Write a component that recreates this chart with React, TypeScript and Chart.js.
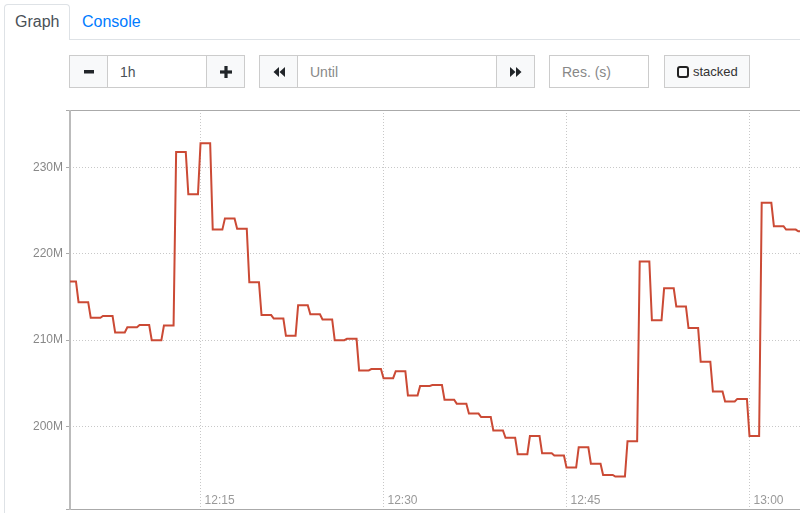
import React, { useEffect, useRef } from "react";
import { Chart, registerables } from "chart.js";

Chart.register(...registerables);

// One value per minute (in millions), starting at 12:04
const stepValues: number[] = [
  216.8, 214.4, 212.6, 212.8, 210.9, 211.5, 211.75, 210.0, 211.7, 231.8,
  226.9, 232.8, 222.8, 224.1, 222.9, 216.7, 212.9, 212.5, 210.5, 214.05,
  213.0, 212.4, 210.0, 210.15, 206.5, 206.65, 205.6, 206.4, 203.6, 204.7,
  204.8, 203.1, 202.65, 201.5, 201.1, 199.55, 198.7, 196.8, 198.9, 196.9,
  196.65, 195.25, 197.6, 195.7, 194.4, 194.2, 198.3, 219.1, 212.3, 216.0,
  213.9, 211.4, 207.5, 204.05, 202.9, 203.2, 198.9, 225.9, 223.2, 222.8,
  222.6,
];
const START_MIN = 4; // minutes after 12:00 of first value
const HOLD = 0.79; // fraction of the minute a value is held flat

const yTickValues: number[] = [200, 210, 220, 230];
const xTickValues: number[] = [15, 30, 45, 60];
const xTickLabels: string[] = ["12:15", "12:30", "12:45", "13:00"];

const X_MIN = 4.3;
const X_MAX = 64.14;
const Y_MIN = 190.45;
const Y_MAX = 236.65;

const LINE_COLOR = "#cb4a35";
const FONT = "'Liberation Sans', Arial, sans-serif";

function MinusIcon() {
  return (
    <svg width="10" height="4" viewBox="0 0 10 4" style={{ display: "block" }}>
      <rect x="0" y="0" width="10" height="3.5" fill="#212529" />
    </svg>
  );
}
function PlusIcon() {
  return (
    <svg width="12" height="12" viewBox="0 0 12 12" style={{ display: "block" }}>
      <rect x="0" y="4.4" width="12" height="3.2" fill="#212529" />
      <rect x="4.4" y="0" width="3.2" height="12" fill="#212529" />
    </svg>
  );
}
function BackIcon() {
  return (
    <svg width="12" height="10" viewBox="0 0 12 10" style={{ display: "block" }}>
      <path d="M6 0 L0.5 5 L6 10 Z M12 0 L6.5 5 L12 10 Z" fill="#212529" />
    </svg>
  );
}
function FwdIcon() {
  return (
    <svg width="12" height="10" viewBox="0 0 12 10" style={{ display: "block" }}>
      <path d="M0 0 L5.5 5 L0 10 Z M6 0 L11.5 5 L6 10 Z" fill="#212529" />
    </svg>
  );
}

const box = (left: number, width: number, bg: string): React.CSSProperties => ({
  position: "absolute",
  left,
  top: 55,
  width,
  height: 33,
  boxSizing: "border-box",
  border: "1px solid #ccc",
  background: bg,
  display: "flex",
  alignItems: "center",
  fontSize: 14,
});

export default function App() {
  const ref = useRef<HTMLCanvasElement>(null);

  useEffect(() => {
    const pts: { x: number; y: number }[] = [];
    stepValues.forEach((v, k) => {
      pts.push({ x: START_MIN + k, y: v });
      pts.push({ x: START_MIN + k + HOLD, y: v });
    });

    const framePlugin = {
      id: "frame",
      beforeDatasetsDraw(chart: any) {
        const { ctx, chartArea: a } = chart;
        ctx.save();
        ctx.strokeStyle = "#aaa";
        ctx.lineWidth = 1;
        ctx.beginPath();
        ctx.moveTo(a.left - 4, a.top + 0.5);
        ctx.lineTo(a.right, a.top + 0.5);
        ctx.moveTo(a.left - 4, a.bottom + 0.5);
        ctx.lineTo(a.right, a.bottom + 0.5);
        ctx.stroke();
        ctx.strokeStyle = "#bbb";
        ctx.lineWidth = 2;
        ctx.beginPath();
        ctx.moveTo(a.left, a.top);
        ctx.lineTo(a.left, a.bottom + 1);
        ctx.stroke();
        ctx.restore();
      },
      afterDraw(chart: any) {
        const { ctx, chartArea: a, scales } = chart;
        ctx.save();
        ctx.font = `12px ${FONT}`;
        ctx.fillStyle = "#999";
        ctx.textAlign = "left";
        ctx.textBaseline = "alphabetic";
        xTickValues.forEach((v, i) => {
          const px = scales.x.getPixelForValue(v);
          ctx.fillText(xTickLabels[i], px + 4, a.bottom - 5);
        });
        ctx.restore();
      },
    };

    const chart = new Chart(ref.current as HTMLCanvasElement, {
      type: "line",
      data: {
        datasets: [
          {
            data: pts,
            borderColor: LINE_COLOR,
            borderWidth: 2,
            pointRadius: 0,
            tension: 0,
            fill: false,
          },
        ],
      },
      options: {
        animation: false,
        responsive: false,
        maintainAspectRatio: false,
        events: [],
        layout: { padding: { top: 10, left: 0, right: 0, bottom: 0 } },
        plugins: {
          legend: { display: false },
          tooltip: { enabled: false },
        },
        scales: {
          x: {
            type: "linear",
            min: X_MIN,
            max: X_MAX,
            afterBuildTicks: (s: any) => {
              s.ticks = xTickValues.map((v) => ({ value: v }));
            },
            afterFit: (s: any) => {
              s.height = 4;
            },
            ticks: { display: false },
            grid: { color: "#c8c8c8", lineWidth: 1, drawTicks: false },
            border: { display: false, dash: [1, 2] },
          },
          y: {
            type: "linear",
            min: Y_MIN,
            max: Y_MAX,
            afterBuildTicks: (s: any) => {
              s.ticks = yTickValues.map((v) => ({ value: v }));
            },
            afterFit: (s: any) => {
              s.width = 70;
              s.paddingTop = 0;
              s.paddingBottom = 0;
            },
            ticks: {
              color: "#888",
              font: { family: FONT, size: 12 },
              padding: 3,
              callback: (v: any) => `${v}M`,
            },
            grid: {
              color: "#c8c8c8",
              lineWidth: 1,
              drawTicks: true,
              tickLength: 4,
              tickColor: "#aaa",
              tickWidth: 1,
            },
            border: { display: false, dash: [1, 2] },
          },
        },
      },
      plugins: [framePlugin],
    } as any);
    return () => chart.destroy();
  }, []);

  return (
    <div
      style={{
        position: "absolute",
        left: 0,
        top: 0,
        width: 800,
        height: 513,
        overflow: "hidden",
        background: "#fff",
        fontFamily: FONT,
        color: "#495057",
      }}
    >
      {/* tabs */}
      <div
        style={{
          position: "absolute",
          left: 4,
          top: 4,
          width: 66,
          height: 36,
          boxSizing: "border-box",
          border: "1px solid #dee2e6",
          borderBottom: "none",
          borderRadius: "4px 4px 0 0",
          background: "#fff",
          fontSize: 16,
          lineHeight: "33px",
          paddingLeft: 10,
          color: "#495057",
        }}
      >
        Graph
      </div>
      <div
        style={{
          position: "absolute",
          left: 82,
          top: 5,
          height: 33,
          fontSize: 16,
          lineHeight: "33px",
          color: "#007bff",
        }}
      >
        Console
      </div>
      <div style={{ position: "absolute", left: 70, top: 39, width: 730, height: 1, background: "#dee2e6" }} />
      <div style={{ position: "absolute", left: 4, top: 39, width: 1, height: 474, background: "#dee2e6" }} />

      {/* controls */}
      <div style={{ ...box(69, 39, "#f8f9fa"), justifyContent: "center" }}>
        <MinusIcon />
      </div>
      <div style={{ ...box(107, 100, "#fff"), paddingLeft: 12, color: "#495057" }}>1h</div>
      <div style={{ ...box(206, 39, "#f8f9fa"), justifyContent: "center" }}>
        <PlusIcon />
      </div>

      <div style={{ ...box(259, 39, "#f8f9fa"), justifyContent: "center" }}>
        <BackIcon />
      </div>
      <div style={{ ...box(297, 200, "#fff"), paddingLeft: 12, color: "#888" }}>Until</div>
      <div style={{ ...box(496, 39, "#f8f9fa"), justifyContent: "center" }}>
        <FwdIcon />
      </div>

      <div style={{ ...box(549, 100, "#fff"), paddingLeft: 12, color: "#888" }}>Res. (s)</div>

      <div style={{ ...box(664, 86, "#f8f9fa"), paddingLeft: 12, fontSize: 13, color: "#333" }}>
        <span
          style={{
            display: "inline-block",
            flex: "0 0 auto",
            width: 12,
            height: 12,
            boxSizing: "border-box",
            border: "2px solid #222",
            borderRadius: 3,
            marginRight: 4,
          }}
        />
        stacked
      </div>

      <canvas
        ref={ref}
        width={800}
        height={413}
        style={{ position: "absolute", left: 0, top: 100, width: 800, height: 413 }}
      />
    </div>
  );
}
